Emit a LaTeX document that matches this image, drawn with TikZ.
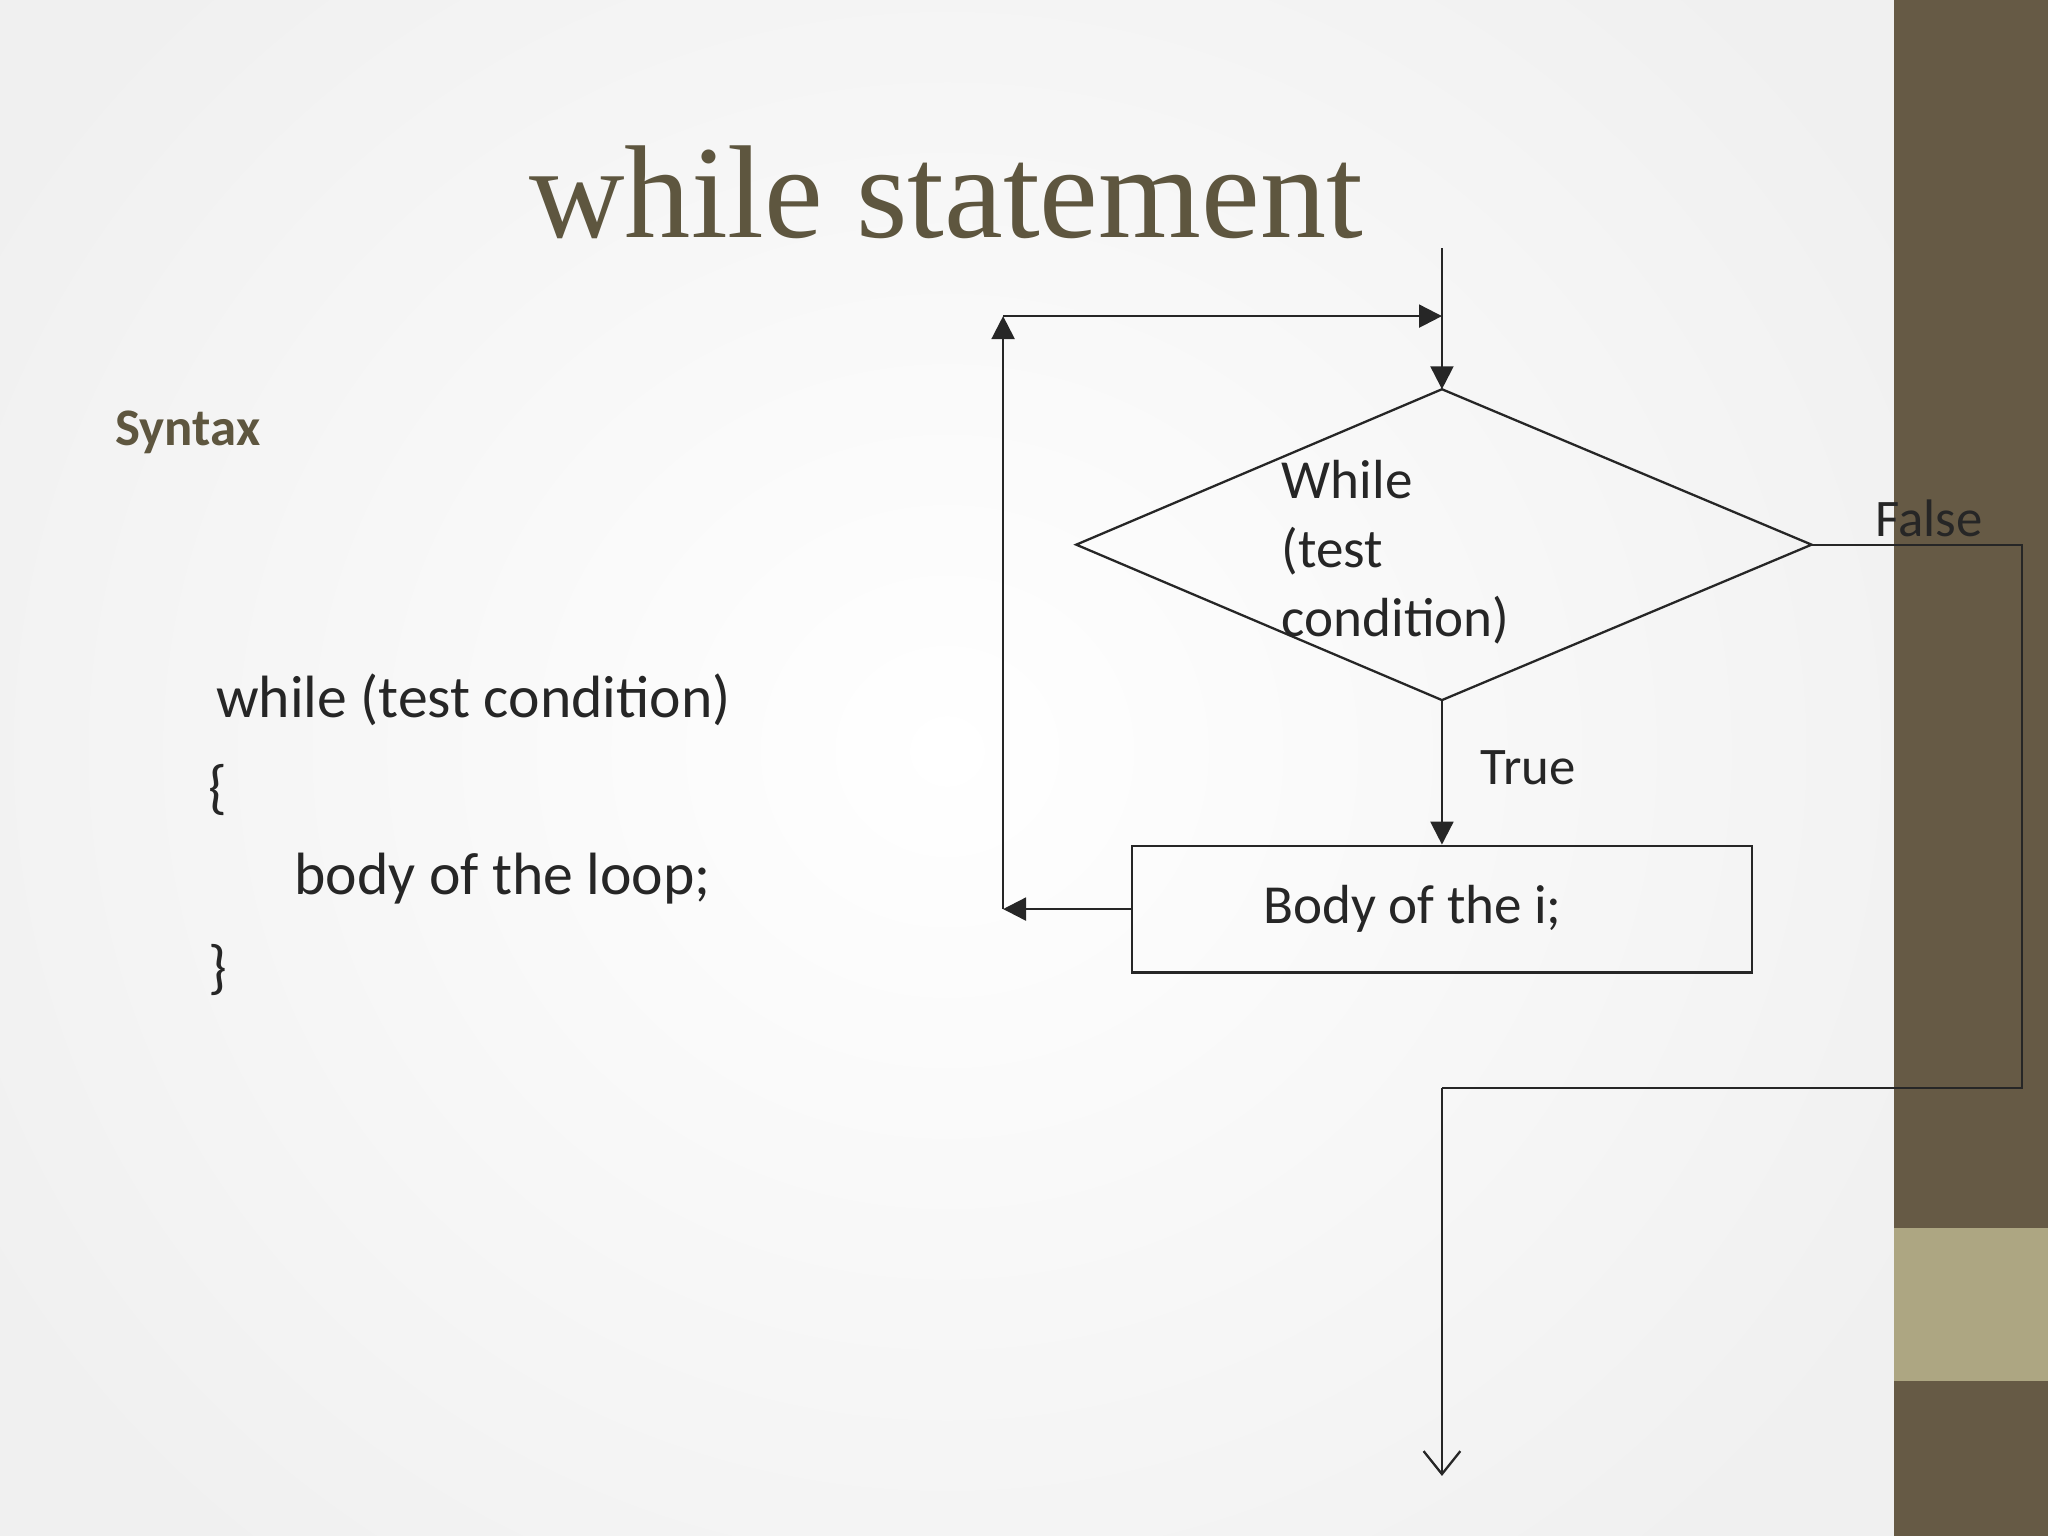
\documentclass[tikz,border=0pt]{standalone}
\usepackage{fontspec}
\setmainfont{Carlito}
\newfontfamily\titlefont{Liberation Serif}
\usetikzlibrary{arrows.meta,shapes.geometric}
\definecolor{dbrown}{HTML}{665A45}
\definecolor{lbrown}{HTML}{ADA682}
\definecolor{ttl}{HTML}{5E563F}
\tikzset{
  ln/.style={draw=black!85, line width=0.5pt},
  arr/.style={ln, -{Triangle[length=5pt,width=5pt]}},
  lbl/.style={font=\fontsize{11}{13}\selectfont, text=black!85},
  code/.style={font=\fontsize{13}{16}\selectfont, text=black!85, anchor=west}
}
\begin{document}
\begin{tikzpicture}[x=0.1mm,y=-0.1mm]
\useasboundingbox (0,0) rectangle (1568,1176);
\fill[black!6] (0,0) rectangle (1450,1176);
\shade[inner color=white, outer color=black!6] (-150,-250) rectangle (1600,1400);
\fill[dbrown] (1450,0) rectangle (1568,1176);
\fill[lbrown] (1450,940) rectangle (1568,1057);
\node[font=\titlefont\fontsize{28.8}{34}\selectfont, text=ttl, anchor=base west] (title) at (393,182) {while statement};
\node[font=\bfseries\fontsize{11.5}{13}\selectfont, text=ttl, anchor=west] (syn) at (76,331) {Syntax};
\node[code] (c1) at (153,536) {while (test condition)};
\node[code] (c2) at (147,605) {\{};
\node[code] (c3) at (213,673) {body of the loop;};
\node[code] (c4) at (147,743) {\}};
% flowchart
\coordinate (top) at (1104,190);
\coordinate (dt) at (1104,298);
\coordinate (dl) at (824,417);
\coordinate (dr) at (1387,417);
\coordinate (db) at (1104,536);
\draw[ln] (dt) -- (dr) -- (db) -- (dl) -- cycle;
\node[lbl, align=left, anchor=north west, font=\fontsize{12}{15}\selectfont] (cond) at (969,340) {While\\(test\\condition)};
\draw[arr] (top) -- (dt);
\node[ln, minimum width=475*0.1mm, minimum height=97*0.1mm, lbl, font=\fontsize{12}{15}\selectfont] (body) at (1104,696) {\hspace*{-4.5mm}Body of the i;};
\draw[arr] (db) -- (body.north);
\node[lbl, font=\fontsize{11.5}{14}\selectfont] (tr) at (1170,588) {True};
\coordinate (lb) at (768,696);
\coordinate (lt) at (768,242);
\coordinate (rt) at (1104,242);
\draw[arr] (body.west) -- (lb);
\draw[arr] (lb) -- (lt);
\draw[arr] (lt) -- (rt);
\coordinate (fr) at (1548,417);
\coordinate (fb) at (1548,833);
\coordinate (fl) at (1104,833);
\coordinate (end) at (1104,1130);
\draw[ln] (dr) -- (fr) -- (fb) -- (fl);
\draw[ln, -{Straight Barb[length=5pt,width=8pt]}] (fl) -- (end);
\node[lbl, font=\fontsize{11.5}{14}\selectfont] (fa) at (1477,397) {False};
\end{tikzpicture}
\end{document}
